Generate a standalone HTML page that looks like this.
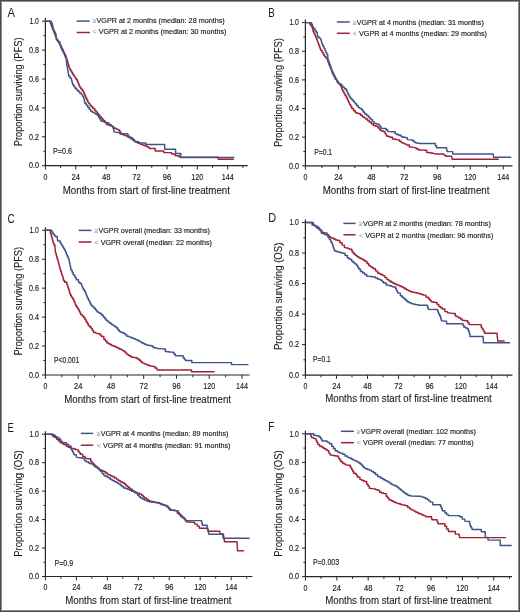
<!DOCTYPE html>
<html><head><meta charset="utf-8"><style>
html,body{margin:0;padding:0;background:#fff;overflow:hidden;}
svg{display:block;will-change:transform;}
text{font-family:"Liberation Sans", sans-serif;fill:#1a1a1a;}
.t{stroke:#1a1a1a;stroke-width:0.14px;}
.lg{stroke:#1a1a1a;stroke-width:0.14px;}
.al{stroke:#1a1a1a;stroke-width:0.1px;}
.t{font-size:8.4px;}
.al{font-size:10.4px;}
.lg{font-size:6.9px;}
.lt{font-size:12.2px;}
.sym{fill:#8a8a8a;stroke:none;}
</style></head><body>
<svg width="520" height="612" viewBox="0 0 520 612">
<rect x="0" y="0" width="520" height="612" fill="#fff"/>
<g><path d="M45.4 18.1V165.7H247.7" fill="none" stroke="#262626" stroke-width="1.2"/><path d="M45.4 165.7v3.8 M60.59 165.7v2.2 M75.78 165.7v3.8 M90.98 165.7v2.2 M106.17 165.7v3.8 M121.36 165.7v2.2 M136.55 165.7v3.8 M151.74 165.7v2.2 M166.94 165.7v3.8 M182.13 165.7v2.2 M197.32 165.7v3.8 M212.51 165.7v2.2 M227.7 165.7v3.8 M242.9 165.7v2.2 M42 165.7h3.4 M43.4 151.25h2 M42 136.8h3.4 M43.4 122.35h2 M42 107.9h3.4 M43.4 93.45h2 M42 79h3.4 M43.4 64.55h2 M42 50.1h3.4 M43.4 35.65h2 M42 21.2h3.4" fill="none" stroke="#262626" stroke-width="1"/><text x="43.45" y="179.6" textLength="3.9" lengthAdjust="spacingAndGlyphs" class="t">0</text><text x="71.58" y="179.6" textLength="8.4" lengthAdjust="spacingAndGlyphs" class="t">24</text><text x="101.97" y="179.6" textLength="8.4" lengthAdjust="spacingAndGlyphs" class="t">48</text><text x="132.35" y="179.6" textLength="8.4" lengthAdjust="spacingAndGlyphs" class="t">72</text><text x="162.74" y="179.6" textLength="8.4" lengthAdjust="spacingAndGlyphs" class="t">96</text><text x="191.32" y="179.6" textLength="12" lengthAdjust="spacingAndGlyphs" class="t">120</text><text x="221.7" y="179.6" textLength="12" lengthAdjust="spacingAndGlyphs" class="t">144</text><text x="28.9" y="168.45" textLength="10.0" lengthAdjust="spacingAndGlyphs" class="t">0.0</text><text x="28.9" y="139.55" textLength="10.0" lengthAdjust="spacingAndGlyphs" class="t">0.2</text><text x="28.9" y="110.65" textLength="10.0" lengthAdjust="spacingAndGlyphs" class="t">0.4</text><text x="28.9" y="81.75" textLength="10.0" lengthAdjust="spacingAndGlyphs" class="t">0.6</text><text x="28.9" y="52.85" textLength="10.0" lengthAdjust="spacingAndGlyphs" class="t">0.8</text><text x="29.4" y="23.95" textLength="9.5" lengthAdjust="spacingAndGlyphs" class="t">1.0</text><text x="62.7" y="193.5" textLength="167.3" lengthAdjust="spacingAndGlyphs" class="al">Months from start of first-line treatment</text><text transform="translate(22.2 146.3) rotate(-90)" x="0" y="0" textLength="108.8" lengthAdjust="spacingAndGlyphs" class="al">Proportion surviving (PFS)</text><text transform="translate(7.6 16.8) scale(0.92 1)" class="lt">A</text><path d="M76.7 21.1H89.8" stroke="#3e5687" stroke-width="1.5"/><path d="M76.7 32.5H89.8" stroke="#a32136" stroke-width="1.5"/><text x="92.5" y="23.3" textLength="132.2" lengthAdjust="spacingAndGlyphs" class="lg"><tspan class="sym">≥</tspan>VGPR at 2 months (median: 28 months)</text><text x="92.5" y="34.2" textLength="134" lengthAdjust="spacingAndGlyphs" class="lg"><tspan class="sym">&lt;</tspan> VGPR at 2 months (median: 30 months)</text><text x="53.1" y="153.5" textLength="18.8" lengthAdjust="spacingAndGlyphs" class="t">P=0.6</text><path d="M45.4,21.2 49.5,21.2 50.2,21.2 50.2,23 50.9,23 50.9,24.8 51.6,24.8 51.6,26.6 52.3,26.6 52.3,28.4 53,28.4 53,30.2 53.7,30.2 53.7,32 54.4,32 54.4,33.8 55.1,33.8 55.1,35.6 55.8,35.6 55.8,37.4 56.5,37.4 56.5,39.2 57.58,39.2 57.58,41.1 58.65,41.1 58.65,43 59.72,43 59.72,44.9 60.8,44.9 60.8,46.8 61.68,46.8 61.68,48.57 62.57,48.57 62.57,50.33 63.45,50.33 63.45,52.1 64.33,52.1 64.33,53.87 65.22,53.87 65.22,55.63 66.1,55.63 66.1,57.4 66.62,57.4 66.62,59.18 67.13,59.18 67.13,60.97 67.65,60.97 67.65,62.75 68.17,62.75 68.17,64.53 68.68,64.53 68.68,66.32 69.2,66.32 69.2,68.1 70.08,68.1 70.08,69.67 70.95,69.67 70.95,71.25 71.83,71.25 71.83,72.83 72.7,72.83 72.7,74.4 73.85,74.4 73.85,76.12 75,76.12 75,77.85 76.15,77.85 76.15,79.58 77.3,79.58 77.3,81.3 78.07,81.3 78.07,83.23 78.83,83.23 78.83,85.17 79.6,85.17 79.6,87.1 80.77,87.1 80.77,88.63 81.93,88.63 81.93,90.17 83.1,90.17 83.1,91.7 83.95,91.7 83.95,93.75 84.8,93.75 84.8,95.8 85.77,95.8 85.77,97.9 86.73,97.9 86.73,100 87.7,100 87.7,102.1 88.87,102.1 88.87,103.63 90.03,103.63 90.03,105.17 91.2,105.17 91.2,106.7 92.9,106.7 92.9,108.45 94.6,108.45 94.6,110.2 95.9,110.2 95.9,111.87 97.2,111.87 97.2,113.53 98.5,113.53 98.5,115.2 100.03,115.2 100.03,116.93 101.57,116.93 101.57,118.67 103.1,118.67 103.1,120.4 104.8,120.4 104.8,122.4 106.5,122.4 106.5,124.4 108.07,124.4 108.07,125 109.63,125 109.63,125.6 111.2,125.6 111.2,126.2 112.9,126.2 112.9,127.35 114.6,127.35 114.6,128.5 116.65,128.5 116.65,129.35 118.7,129.35 118.7,130.2 119.85,130.2 119.85,132.2 121,132.2 121,134.2 122.73,134.2 122.73,134.8 124.47,134.8 124.47,135.4 126.2,135.4 126.2,136 127.73,136 127.73,136.93 129.27,136.93 129.27,137.87 130.8,137.87 130.8,138.8 132.8,138.8 132.8,140.25 134.8,140.25 134.8,141.7 136.53,141.7 136.53,142.47 138.27,142.47 138.27,143.23 140,143.23 140,144 141.53,144 141.53,144.6 143.07,144.6 143.07,145.2 144.6,145.2 144.6,145.8 146.13,145.8 146.13,146.57 147.67,146.57 147.67,147.33 149.2,147.33 149.2,148.1 150,148.5 155.2,148.5 155.2,150.9 163.8,150.9 163.8,152.6 171.6,152.6 171.6,154 175.1,154 175.1,155.8 179.4,155.8 179.4,157.1 218.3,157.1 218.3,159.2 233.9,159.2" fill="none" stroke="#a32136" stroke-width="1.45" stroke-linejoin="round"/><path d="M45.4,21.2 50.25,21.2 51.23,21.2 51.23,22.95 52.2,22.95 52.2,24.7 52.67,24.7 52.67,26.63 53.13,26.63 53.13,28.57 53.6,28.57 53.6,30.5 54.4,30.5 54.4,32.1 55.2,32.1 55.2,33.7 56,33.7 56,35.3 56.5,40.1 58.2,40.1 58.2,41.8 59.9,41.8 59.9,43.5 60.35,43.5 60.35,45.65 60.8,45.65 60.8,47.8 61.65,47.8 61.65,49.47 62.5,49.47 62.5,51.15 63.35,51.15 63.35,52.83 64.2,52.83 64.2,54.5 64.83,54.5 64.83,56.1 65.47,56.1 65.47,57.7 66.1,57.7 66.1,59.3 66.3,59.3 66.3,60.92 66.5,60.92 66.5,62.55 66.7,62.55 66.7,64.17 66.9,64.17 66.9,65.8 67.2,65.8 67.2,67.53 67.5,67.53 67.5,69.27 67.8,69.27 67.8,71 68.1,71 68.1,72.73 68.4,72.73 68.4,74.47 68.7,74.47 68.7,76.2 70.1,76.2 70.1,78.2 71.5,78.2 71.5,80.2 71.9,80.2 71.9,81.73 72.3,81.73 72.3,83.27 72.7,83.27 72.7,84.8 73.85,84.8 73.85,86.55 75,86.55 75,88.3 76.45,88.3 76.45,89.75 77.9,89.75 77.9,91.2 79.6,91.2 79.6,92.9 81.3,92.9 81.3,94.6 82.5,94.6 82.5,96.35 83.7,96.35 83.7,98.1 84.07,98.1 84.07,99.83 84.43,99.83 84.43,101.57 84.8,101.57 84.8,103.3 86.25,103.3 86.25,105.3 87.7,105.3 87.7,107.3 89.15,107.3 89.15,109.3 90.6,109.3 90.6,111.3 92.3,111.3 92.3,112.2 94,112.2 94,113.1 95.65,113.1 95.65,114.15 97.3,114.15 97.3,115.2 98.47,115.2 98.47,117.13 99.63,117.13 99.63,119.07 100.8,119.07 100.8,121 102.5,121 102.5,121.55 104.2,121.55 104.2,122.1 105.65,122.1 105.65,122.4 107.1,122.4 107.1,122.7 108.55,122.7 108.55,123.85 110,123.85 110,125 111.45,125 111.45,126.15 112.9,126.15 112.9,127.3 113.27,127.3 113.27,128.83 113.63,128.83 113.63,130.37 114,130.37 114,131.9 117.5,132.5 119.8,132.5 119.8,133.7 125.6,133.7 127.9,133.7 127.9,136 129.35,136 129.35,136.85 130.8,136.85 130.8,137.7 132.5,137.7 132.5,139.45 134.2,139.45 134.2,141.2 137.7,141.7 138.8,141.7 138.8,142.9 145.8,142.9 145.8,144.5 164.7,144.5 164.7,149.2 175.6,149.2 175.6,153.5 180.8,153.5 180.8,157.5 234.4,157.5" fill="none" stroke="#3e5687" stroke-width="1.45" stroke-linejoin="round"/></g>
<g><path d="M305.4 19.4V165.8H512.4" fill="none" stroke="#262626" stroke-width="1.2"/><path d="M305.4 165.8v3.8 M321.88 165.8v2.2 M338.37 165.8v3.8 M354.85 165.8v2.2 M371.33 165.8v3.8 M387.82 165.8v2.2 M404.3 165.8v3.8 M420.78 165.8v2.2 M437.27 165.8v3.8 M453.75 165.8v2.2 M470.23 165.8v3.8 M486.72 165.8v2.2 M503.2 165.8v3.8 M302 165.8h3.4 M303.4 151.48h2 M302 137.16h3.4 M303.4 122.84h2 M302 108.52h3.4 M303.4 94.2h2 M302 79.88h3.4 M303.4 65.56h2 M302 51.24h3.4 M303.4 36.92h2 M302 22.6h3.4" fill="none" stroke="#262626" stroke-width="1"/><text x="303.45" y="179.7" textLength="3.9" lengthAdjust="spacingAndGlyphs" class="t">0</text><text x="334.17" y="179.7" textLength="8.4" lengthAdjust="spacingAndGlyphs" class="t">24</text><text x="367.13" y="179.7" textLength="8.4" lengthAdjust="spacingAndGlyphs" class="t">48</text><text x="400.1" y="179.7" textLength="8.4" lengthAdjust="spacingAndGlyphs" class="t">72</text><text x="433.07" y="179.7" textLength="8.4" lengthAdjust="spacingAndGlyphs" class="t">96</text><text x="464.23" y="179.7" textLength="12" lengthAdjust="spacingAndGlyphs" class="t">120</text><text x="497.2" y="179.7" textLength="12" lengthAdjust="spacingAndGlyphs" class="t">144</text><text x="288.9" y="168.55" textLength="10.0" lengthAdjust="spacingAndGlyphs" class="t">0.0</text><text x="288.9" y="139.91" textLength="10.0" lengthAdjust="spacingAndGlyphs" class="t">0.2</text><text x="288.9" y="111.27" textLength="10.0" lengthAdjust="spacingAndGlyphs" class="t">0.4</text><text x="288.9" y="82.63" textLength="10.0" lengthAdjust="spacingAndGlyphs" class="t">0.6</text><text x="288.9" y="53.99" textLength="10.0" lengthAdjust="spacingAndGlyphs" class="t">0.8</text><text x="289.4" y="25.35" textLength="9.5" lengthAdjust="spacingAndGlyphs" class="t">1.0</text><text x="322.7" y="193.6" textLength="166.7" lengthAdjust="spacingAndGlyphs" class="al">Months from start of first-line treatment</text><text transform="translate(282.2 147) rotate(-90)" x="0" y="0" textLength="108.9" lengthAdjust="spacingAndGlyphs" class="al">Proportion surviving (PFS)</text><text transform="translate(268.3 16.6) scale(0.8 1)" class="lt">B</text><path d="M336.9 22H349.8" stroke="#3e5687" stroke-width="1.5"/><path d="M336.9 33.3H349.8" stroke="#a32136" stroke-width="1.5"/><text x="352.8" y="24.5" textLength="131" lengthAdjust="spacingAndGlyphs" class="lg"><tspan class="sym">≥</tspan>VGPR at 4 months (median: 31 months)</text><text x="352.8" y="35.7" textLength="134.2" lengthAdjust="spacingAndGlyphs" class="lg"><tspan class="sym">&lt;</tspan> VGPR at 4 months (median: 29 months)</text><text x="314.2" y="154.6" textLength="17.9" lengthAdjust="spacingAndGlyphs" class="t">P=0.1</text><path d="M305.4,22.6 308.6,22.6 309.77,22.6 309.77,24.33 310.93,24.33 310.93,26.07 312.1,26.07 312.1,27.8 312.65,27.8 312.65,29.8 313.2,29.8 313.2,31.8 313.97,31.8 313.97,33.37 314.73,33.37 314.73,34.93 315.5,34.93 315.5,36.5 316.1,36.5 316.1,38.03 316.7,38.03 316.7,39.57 317.3,39.57 317.3,41.1 317.87,41.1 317.87,42.63 318.43,42.63 318.43,44.17 319,44.17 319,45.7 319.57,45.7 319.57,47.23 320.13,47.23 320.13,48.77 320.7,48.77 320.7,50.3 321.85,50.3 321.85,52.05 323,52.05 323,53.8 323.9,53.8 323.9,55.25 324.8,55.25 324.8,56.7 325.95,56.7 325.95,58.1 327.1,58.1 327.1,59.5 327.67,59.5 327.67,61.07 328.23,61.07 328.23,62.63 328.8,62.63 328.8,64.2 329.52,64.2 329.52,65.92 330.25,65.92 330.25,67.65 330.98,67.65 330.98,69.38 331.7,69.38 331.7,71.1 332.67,71.1 332.67,73.03 333.63,73.03 333.63,74.97 334.6,74.97 334.6,76.9 335.48,76.9 335.48,78.5 336.35,78.5 336.35,80.1 337.23,80.1 337.23,81.7 338.1,81.7 338.1,83.3 339.55,83.3 339.55,85 341,85 341,86.7 341.57,86.7 341.57,88.23 342.13,88.23 342.13,89.77 342.7,89.77 342.7,91.3 343.85,91.3 343.85,93.35 345,93.35 345,95.4 346.15,95.4 346.15,97.4 347.3,97.4 347.3,99.4 348.07,99.4 348.07,101.13 348.83,101.13 348.83,102.87 349.6,102.87 349.6,104.6 350.75,104.6 350.75,106.65 351.9,106.65 351.9,108.7 353.65,108.7 353.65,110.7 355.4,110.7 355.4,112.7 357.1,112.7 357.1,113.25 358.8,113.25 358.8,113.8 360.55,113.8 360.55,115.25 362.3,115.25 362.3,116.7 364.05,116.7 364.05,117.85 365.8,117.85 365.8,119 367.5,119 367.5,120.45 369.2,120.45 369.2,121.9 371.25,121.9 371.25,123.65 373.3,123.65 373.3,125.4 375,125.4 375,125.95 376.7,125.95 376.7,126.5 378.15,126.5 378.15,127.95 379.6,127.95 379.6,129.4 380.4,129.4 380.4,130.5 382.05,130.5 382.05,131.15 383.7,131.15 383.7,131.8 385.05,131.8 385.05,133.85 386.4,133.85 386.4,135.9 388.1,135.9 388.1,136.55 389.8,136.55 389.8,137.2 392.5,137.2 392.5,139 394.3,139 394.3,139.3 396.1,139.3 396.1,139.6 397.9,139.6 397.9,139.9 399.55,139.9 399.55,141.25 401.2,141.25 401.2,142.6 403,142.6 403,143.37 404.8,143.37 404.8,144.13 406.6,144.13 406.6,144.9 409.3,144.9 409.3,146.9 410.87,146.9 410.87,147.13 412.43,147.13 412.43,147.37 414,147.37 414,147.6 416.05,147.6 416.05,148.65 418.1,148.65 418.1,149.7 420.1,149.7 420.1,149.9 422.1,149.9 422.1,150.1 424.1,150.1 424.1,150.3 426.8,150.3 426.8,152.4 428.83,152.4 428.83,152.73 430.87,152.73 430.87,153.07 432.9,153.07 432.9,153.4 436.2,154 441.9,154 443.85,154 443.85,155.1 445.8,155.1 445.8,156.2 451.6,156.2 452.2,159.2 498.8,159.2" fill="none" stroke="#a32136" stroke-width="1.45" stroke-linejoin="round"/><path d="M305.4,22.6 309.8,22.6 311.5,22.6 311.5,24.3 312.35,24.3 312.35,26.35 313.2,26.35 313.2,28.4 315,28.4 315,30.7 316.15,30.7 316.15,32.15 317.3,32.15 317.3,33.6 317.8,37 319.25,37 319.25,38.15 320.7,38.15 320.7,39.3 321.1,39.3 321.1,40.87 321.5,40.87 321.5,42.43 321.9,42.43 321.9,44 322.67,44 322.67,45.53 323.43,45.53 323.43,47.07 324.2,47.07 324.2,48.6 325.05,48.6 325.05,50.6 325.9,50.6 325.9,52.6 326.8,52.6 326.8,54.35 327.7,54.35 327.7,56.1 328.2,60.7 328.93,60.7 328.93,62.73 329.65,62.73 329.65,64.75 330.38,64.75 330.38,66.78 331.1,66.78 331.1,68.8 331.5,68.8 331.5,70.37 331.9,70.37 331.9,71.93 332.3,71.93 332.3,73.5 333.27,73.5 333.27,75.4 334.23,75.4 334.23,77.3 335.2,77.3 335.2,79.2 336.65,79.2 336.65,81.25 338.1,81.25 338.1,83.3 339.55,83.3 339.55,83.85 341,83.85 341,84.4 341.85,84.4 341.85,85.85 342.7,85.85 342.7,87.3 344.45,87.3 344.45,88.75 346.2,88.75 346.2,90.2 347.05,90.2 347.05,92.2 347.9,92.2 347.9,94.2 349.05,94.2 349.05,96.25 350.2,96.25 350.2,98.3 351.65,98.3 351.65,99.75 353.1,99.75 353.1,101.2 354.25,101.2 354.25,102.6 355.4,102.6 355.4,104 356.85,104 356.85,105.75 358.3,105.75 358.3,107.5 359.75,107.5 359.75,108.35 361.2,108.35 361.2,109.2 362.33,109.2 362.33,110.73 363.47,110.73 363.47,112.27 364.6,112.27 364.6,113.8 366.35,113.8 366.35,115.25 368.1,115.25 368.1,116.7 369.55,116.7 369.55,118.15 371,118.15 371,119.6 372.4,119.6 372.4,121.35 373.8,121.35 373.8,123.1 375.55,123.1 375.55,123.65 377.3,123.65 377.3,124.2 379,124.2 379,125.1 380.05,125.1 380.05,126.65 381.1,126.65 381.1,128.2 384.4,128.5 386.1,128.5 386.1,129.95 387.8,129.95 387.8,131.4 392.5,131.8 395.2,131.8 395.2,133.8 396.9,133.8 396.9,134.5 398.6,134.5 398.6,135.2 401.2,135.2 401.2,136.8 403.25,136.8 403.25,137.2 405.3,137.2 405.3,137.6 407.3,137.6 407.3,139.6 411.3,139.9 413,139.9 413,141.25 414.7,141.25 414.7,142.6 416.27,142.6 416.27,142.9 417.83,142.9 417.83,143.2 419.4,143.2 419.4,143.5 434.2,143.5 435.35,143.5 435.35,145.65 436.5,145.65 436.5,147.8 446.1,147.8 446.55,147.8 446.55,149.7 447,149.7 447,151.6 451.9,151.6 452.7,151.6 452.7,153.9 493.2,153.9 493.5,157.3 511.2,157.3" fill="none" stroke="#3e5687" stroke-width="1.45" stroke-linejoin="round"/></g>
<g><path d="M45.4 227.3V375H249.6" fill="none" stroke="#262626" stroke-width="1.2"/><path d="M45.4 375v3.8 M61.78 375v2.2 M78.16 375v3.8 M94.54 375v2.2 M110.92 375v3.8 M127.3 375v2.2 M143.68 375v3.8 M160.06 375v2.2 M176.44 375v3.8 M192.82 375v2.2 M209.2 375v3.8 M225.58 375v2.2 M241.96 375v3.8 M42 375h3.4 M43.4 360.53h2 M42 346.06h3.4 M43.4 331.59h2 M42 317.12h3.4 M43.4 302.65h2 M42 288.18h3.4 M43.4 273.71h2 M42 259.24h3.4 M43.4 244.77h2 M42 230.3h3.4" fill="none" stroke="#262626" stroke-width="1"/><text x="43.45" y="388.9" textLength="3.9" lengthAdjust="spacingAndGlyphs" class="t">0</text><text x="73.96" y="388.9" textLength="8.4" lengthAdjust="spacingAndGlyphs" class="t">24</text><text x="106.72" y="388.9" textLength="8.4" lengthAdjust="spacingAndGlyphs" class="t">48</text><text x="139.48" y="388.9" textLength="8.4" lengthAdjust="spacingAndGlyphs" class="t">72</text><text x="172.24" y="388.9" textLength="8.4" lengthAdjust="spacingAndGlyphs" class="t">96</text><text x="203.2" y="388.9" textLength="12" lengthAdjust="spacingAndGlyphs" class="t">120</text><text x="235.96" y="388.9" textLength="12" lengthAdjust="spacingAndGlyphs" class="t">144</text><text x="28.9" y="377.75" textLength="10.0" lengthAdjust="spacingAndGlyphs" class="t">0.0</text><text x="28.9" y="348.81" textLength="10.0" lengthAdjust="spacingAndGlyphs" class="t">0.2</text><text x="28.9" y="319.87" textLength="10.0" lengthAdjust="spacingAndGlyphs" class="t">0.4</text><text x="28.9" y="290.93" textLength="10.0" lengthAdjust="spacingAndGlyphs" class="t">0.6</text><text x="28.9" y="261.99" textLength="10.0" lengthAdjust="spacingAndGlyphs" class="t">0.8</text><text x="29.4" y="233.05" textLength="9.5" lengthAdjust="spacingAndGlyphs" class="t">1.0</text><text x="64.2" y="402.5" textLength="166.8" lengthAdjust="spacingAndGlyphs" class="al">Months from start of first-line treatment</text><text transform="translate(22.2 355.6) rotate(-90)" x="0" y="0" textLength="108.7" lengthAdjust="spacingAndGlyphs" class="al">Proportion surviving (PFS)</text><text transform="translate(7.4 222.8) scale(0.82 1)" class="lt">C</text><path d="M78.6 230.4H91.5" stroke="#3e5687" stroke-width="1.5"/><path d="M78.6 242H91.5" stroke="#a32136" stroke-width="1.5"/><text x="94.5" y="233" textLength="115.4" lengthAdjust="spacingAndGlyphs" class="lg"><tspan class="sym">≥</tspan>VGPR overall (median: 33 months)</text><text x="94.5" y="244.5" textLength="117.4" lengthAdjust="spacingAndGlyphs" class="lg"><tspan class="sym">&lt;</tspan> VGPR overall (median: 22 months)</text><text x="54.1" y="363" textLength="25.2" lengthAdjust="spacingAndGlyphs" class="t">P&lt;0.001</text><path d="M45.4,230.3 49.2,230.3 50.3,230.3 50.3,232.9 50.9,232.9 50.9,234.83 51.5,234.83 51.5,236.77 52.1,236.77 52.1,238.7 52.47,238.7 52.47,240.23 52.83,240.23 52.83,241.77 53.2,241.77 53.2,243.3 54.1,243.3 54.1,245.3 55,245.3 55,247.3 55.5,252.5 55.9,252.5 55.9,254.07 56.3,254.07 56.3,255.63 56.7,255.63 56.7,257.2 57.25,257.2 57.25,258.9 57.8,258.9 57.8,260.6 58.2,260.6 58.2,262.13 58.6,262.13 58.6,263.67 59,263.67 59,265.2 59.4,265.2 59.4,266.73 59.8,266.73 59.8,268.27 60.2,268.27 60.2,269.8 60.75,269.8 60.75,271.55 61.3,271.55 61.3,273.3 61.9,273.3 61.9,275.05 62.5,275.05 62.5,276.8 63.05,276.8 63.05,278.8 63.6,278.8 63.6,280.8 64.6,280.8 64.6,282.3 66.9,282.3 66.9,284.6 67.5,284.6 67.5,286.33 68.1,286.33 68.1,288.07 68.7,288.07 68.7,289.8 69.25,289.8 69.25,291.8 69.8,291.8 69.8,293.8 70.65,293.8 70.65,295.55 71.5,295.55 71.5,297.3 72.65,297.3 72.65,299.05 73.8,299.05 73.8,300.8 74.4,300.8 74.4,302.33 75,302.33 75,303.87 75.6,303.87 75.6,305.4 76.57,305.4 76.57,306.93 77.53,306.93 77.53,308.47 78.5,308.47 78.5,310 79.27,310 79.27,311.53 80.03,311.53 80.03,313.07 80.8,313.07 80.8,314.6 82.25,314.6 82.25,316.05 83.7,316.05 83.7,317.5 84.85,317.5 84.85,319.5 86,319.5 86,321.5 87.15,321.5 87.15,323.55 88.3,323.55 88.3,325.6 89.75,325.6 89.75,327.05 91.2,327.05 91.2,328.5 92.35,328.5 92.35,330.5 93.5,330.5 93.5,332.5 95.8,332.5 95.8,333.1 98.7,333.7 100.1,333.7 100.1,335.1 101.5,335.1 101.5,336.5 103.8,336.5 103.8,339.2 105.35,339.2 105.35,341 106.9,341 106.9,342.8 108.43,342.8 108.43,343.67 109.97,343.67 109.97,344.53 111.5,344.53 111.5,345.4 113.45,345.4 113.45,346.15 115.4,346.15 115.4,346.9 116.93,346.9 116.93,347.67 118.47,347.67 118.47,348.43 120,348.43 120,349.2 121.9,349.2 121.9,350.35 123.8,350.35 123.8,351.5 125.35,351.5 125.35,353.05 126.9,353.05 126.9,354.6 128.85,354.6 128.85,355.75 130.8,355.75 130.8,356.9 132.33,356.9 132.33,357.17 133.87,357.17 133.87,357.43 135.4,357.43 135.4,357.7 137.3,357.7 137.3,359 139.2,359 139.2,360.3 140.75,360.3 140.75,361.7 142.3,361.7 142.3,363.1 144.25,363.1 144.25,363.85 146.2,363.85 146.2,364.6 147.7,364.6 147.7,365.15 149.2,365.15 149.2,365.7 151.15,365.7 151.15,366.1 153.1,366.1 153.1,366.5 155,366.5 155,368 156.9,368 156.9,369.5 157.5,370 190.8,370 191.5,370 191.5,371.8 214.6,371.8" fill="none" stroke="#a32136" stroke-width="1.45" stroke-linejoin="round"/><path d="M45.4,230.3 50.9,230.3 51.8,230.3 51.8,231.9 52.7,231.9 52.7,233.5 53.85,233.5 53.85,234.95 55,234.95 55,236.4 57.3,236.4 57.3,238.7 57.8,241 60.2,241 60.2,242.7 61.05,242.7 61.05,244.15 61.9,244.15 61.9,245.6 62.75,245.6 62.75,247.05 63.6,247.05 63.6,248.5 64.45,248.5 64.45,249.95 65.3,249.95 65.3,251.4 65.9,251.4 65.9,252.93 66.5,252.93 66.5,254.47 67.1,254.47 67.1,256 67.95,256 67.95,258 68.8,258 68.8,260 69.2,260 69.2,261.73 69.6,261.73 69.6,263.47 70,263.47 70,265.2 70.37,265.2 70.37,266.93 70.73,266.93 70.73,268.67 71.1,268.67 71.1,270.4 72.3,270.4 72.3,272.7 73.15,272.7 73.15,274.15 74,274.15 74,275.6 75.15,275.6 75.15,277.65 76.3,277.65 76.3,279.7 78.5,279.7 78.5,282.3 79.9,282.3 79.9,283.45 81.3,283.45 81.3,284.6 81.9,284.6 81.9,286.35 82.5,286.35 82.5,288.1 83.47,288.1 83.47,289.63 84.43,289.63 84.43,291.17 85.4,291.17 85.4,292.7 85.97,292.7 85.97,294.23 86.53,294.23 86.53,295.77 87.1,295.77 87.1,297.3 87.87,297.3 87.87,298.83 88.63,298.83 88.63,300.37 89.4,300.37 89.4,301.9 90.3,301.9 90.3,303.65 91.2,303.65 91.2,305.4 92.6,305.4 92.6,306.85 94,306.85 94,308.3 95.45,308.3 95.45,310 96.9,310 96.9,311.7 98.35,311.7 98.35,312.6 99.8,312.6 99.8,313.5 101.55,313.5 101.55,315.2 103.3,315.2 103.3,316.9 104.75,316.9 104.75,318.65 106.2,318.65 106.2,320.4 107.9,320.4 107.9,321.85 109.6,321.85 109.6,323.3 111.35,323.3 111.35,324.45 113.1,324.45 113.1,325.6 114.8,325.6 114.8,326.75 116.5,326.75 116.5,327.9 117.85,327.9 117.85,329.7 119.2,329.7 119.2,331.5 120.73,331.5 120.73,332.17 122.27,332.17 122.27,332.83 123.8,332.83 123.8,333.5 125.35,333.5 125.35,334.85 126.9,334.85 126.9,336.2 128.7,336.2 128.7,336.87 130.5,336.87 130.5,337.53 132.3,337.53 132.3,338.2 133.83,338.2 133.83,338.8 135.37,338.8 135.37,339.4 136.9,339.4 136.9,340 138.43,340 138.43,340.93 139.97,340.93 139.97,341.87 141.5,341.87 141.5,342.8 143.07,342.8 143.07,343.5 144.63,343.5 144.63,344.2 146.2,344.2 146.2,344.9 147.73,344.9 147.73,345.2 149.27,345.2 149.27,345.5 150.8,345.5 150.8,345.8 152.3,345.8 152.3,346.75 153.8,346.75 153.8,347.7 155.75,347.7 155.75,348.1 157.7,348.1 157.7,348.5 163.1,348.9 165.4,348.9 165.4,351.5 167.12,351.5 167.12,351.7 168.85,351.7 168.85,351.9 170.58,351.9 170.58,352.1 172.3,352.1 172.3,352.3 173.85,352.3 173.85,354.05 175.4,354.05 175.4,355.8 180.8,355.8 183.1,355.8 183.1,357.7 184.25,357.7 184.25,359.1 185.4,359.1 185.4,360.5 190,360.5 191.8,360.5 191.8,362.6 230.8,362.6 231.5,362.6 231.5,364.6 248.5,364.6" fill="none" stroke="#3e5687" stroke-width="1.45" stroke-linejoin="round"/></g>
<g><path d="M305.4 219.4V375.1H512.4" fill="none" stroke="#262626" stroke-width="1.2"/><path d="M305.4 375.1v3.8 M320.93 375.1v2.2 M336.46 375.1v3.8 M351.98 375.1v2.2 M367.51 375.1v3.8 M383.04 375.1v2.2 M398.57 375.1v3.8 M414.1 375.1v2.2 M429.62 375.1v3.8 M445.15 375.1v2.2 M460.68 375.1v3.8 M476.21 375.1v2.2 M491.74 375.1v3.8 M507.26 375.1v2.2 M302 375.1h3.4 M303.4 359.84h2 M302 344.58h3.4 M303.4 329.32h2 M302 314.06h3.4 M303.4 298.8h2 M302 283.54h3.4 M303.4 268.28h2 M302 253.02h3.4 M303.4 237.76h2 M302 222.5h3.4" fill="none" stroke="#262626" stroke-width="1"/><text x="303.45" y="389" textLength="3.9" lengthAdjust="spacingAndGlyphs" class="t">0</text><text x="332.26" y="389" textLength="8.4" lengthAdjust="spacingAndGlyphs" class="t">24</text><text x="363.31" y="389" textLength="8.4" lengthAdjust="spacingAndGlyphs" class="t">48</text><text x="394.37" y="389" textLength="8.4" lengthAdjust="spacingAndGlyphs" class="t">72</text><text x="425.42" y="389" textLength="8.4" lengthAdjust="spacingAndGlyphs" class="t">96</text><text x="454.68" y="389" textLength="12" lengthAdjust="spacingAndGlyphs" class="t">120</text><text x="485.74" y="389" textLength="12" lengthAdjust="spacingAndGlyphs" class="t">144</text><text x="288.9" y="377.85" textLength="10.0" lengthAdjust="spacingAndGlyphs" class="t">0.0</text><text x="288.9" y="347.33" textLength="10.0" lengthAdjust="spacingAndGlyphs" class="t">0.2</text><text x="288.9" y="316.81" textLength="10.0" lengthAdjust="spacingAndGlyphs" class="t">0.4</text><text x="288.9" y="286.29" textLength="10.0" lengthAdjust="spacingAndGlyphs" class="t">0.6</text><text x="288.9" y="255.77" textLength="10.0" lengthAdjust="spacingAndGlyphs" class="t">0.8</text><text x="289.4" y="225.25" textLength="9.5" lengthAdjust="spacingAndGlyphs" class="t">1.0</text><text x="325.2" y="402.3" textLength="166.6" lengthAdjust="spacingAndGlyphs" class="al">Months from start of first-line treatment</text><text transform="translate(282.2 350.1) rotate(-90)" x="0" y="0" textLength="107.5" lengthAdjust="spacingAndGlyphs" class="al">Proportion surviving (OS)</text><text transform="translate(268.3 222.3) scale(0.9 1)" class="lt">D</text><path d="M343.4 223.4H355.6" stroke="#3e5687" stroke-width="1.5"/><path d="M343.4 234.8H355.6" stroke="#a32136" stroke-width="1.5"/><text x="359" y="226" textLength="131.8" lengthAdjust="spacingAndGlyphs" class="lg"><tspan class="sym">≥</tspan>VGPR at 2 months (median: 78 months)</text><text x="359" y="237.5" textLength="134.3" lengthAdjust="spacingAndGlyphs" class="lg"><tspan class="sym">&lt;</tspan> VGPR at 2 months (median: 96 months)</text><text x="313.1" y="362.2" textLength="17.7" lengthAdjust="spacingAndGlyphs" class="t">P=0.1</text><path d="M305.4,222.5 310.3,222.5 312.1,222.5 312.1,224.9 313.8,224.9 313.8,225.5 315.5,225.5 315.5,226.1 317.3,226.1 317.3,228.4 319.6,228.4 319.6,230.1 321.9,230.1 321.9,232.4 324.2,232.4 324.2,234.2 326.5,234.7 328.8,234.7 328.8,236.5 330.25,236.5 330.25,237.35 331.7,237.35 331.7,238.2 334,238.2 334,239.3 335.75,239.3 335.75,239.9 337.5,239.9 337.5,240.5 339.8,240.5 339.8,242.8 342.1,242.8 342.1,245.1 344.4,245.1 344.4,247.4 346.7,248 348.15,248 348.15,248.6 349.6,248.6 349.6,249.2 351.9,249.2 351.9,251.5 353.05,251.5 353.05,252.9 354.2,252.9 354.2,254.3 355.65,254.3 355.65,255.5 357.1,255.5 357.1,256.7 358.8,256.7 358.8,257.65 360.5,257.65 360.5,258.6 362.13,258.6 362.13,259.53 363.77,259.53 363.77,260.47 365.4,260.47 365.4,261.4 367.05,261.4 367.05,263.45 368.7,263.45 368.7,265.5 370.3,265.5 370.3,266.6 371.9,266.6 371.9,267.7 373.5,267.7 373.5,268.8 375.5,268.8 375.5,270.85 377.5,270.85 377.5,272.9 379.3,272.9 379.3,273.8 381.1,273.8 381.1,274.7 382.9,274.7 382.9,275.6 384.9,275.6 384.9,277.6 386.9,277.6 386.9,279.6 388.95,279.6 388.95,280.95 391,280.95 391,282.3 393,282.3 393,283.3 395,283.3 395,284.3 397,284.3 397,285 399,285 399,285.7 401.05,285.7 401.05,286.7 403.1,286.7 403.1,287.7 404.75,287.7 404.75,288.7 406.4,288.7 406.4,289.7 408.1,289.7 408.1,290.6 409.8,290.6 409.8,291.5 411.6,291.5 411.6,291.93 413.4,291.93 413.4,292.37 415.2,292.37 415.2,292.8 417.2,292.8 417.2,293.25 419.2,293.25 419.2,293.7 421.25,293.7 421.25,294.4 423.3,294.4 423.3,295.1 426,295.1 426,297.2 428.5,297.2 428.5,298.7 429.8,298.7 429.8,300.25 431.1,300.25 431.1,301.8 433.25,301.8 433.25,302.15 435.4,302.15 435.4,302.5 437.1,302.5 437.1,304.45 438.8,304.45 438.8,306.4 440.55,306.4 440.55,307.7 442.3,307.7 442.3,309 444.9,309 444.9,311.6 447.5,311.6 447.5,312.8 452.7,313.4 455.3,313.4 455.3,316 457,316 457,316.85 458.7,316.85 458.7,317.7 460.45,317.7 460.45,319 462.2,319 462.2,320.3 466.5,320.8 467.8,320.8 467.8,322.7 469.1,322.7 469.1,324.6 478.6,324.6 481.2,324.6 481.2,327.2 482.1,327.2 482.1,328.65 483,328.65 483,330.1 483.85,330.1 483.85,331.7 484.7,331.7 484.7,333.3 496.8,333.3 497.02,333.3 497.02,335.23 497.25,335.23 497.25,337.15 497.48,337.15 497.48,339.07 497.7,339.07 497.7,341 504.6,341" fill="none" stroke="#a32136" stroke-width="1.45" stroke-linejoin="round"/><path d="M305.4,222.5 312.7,222.5 313.25,222.5 313.25,224 313.8,224 313.8,225.5 315.5,225.5 315.5,226.7 317.3,227.2 319,227.2 319,229 320.2,229 320.2,230.7 321.3,230.7 321.3,233 323,233.6 324.8,233 327.1,233 327.1,234.7 327.65,234.7 327.65,236.15 328.2,236.15 328.2,237.6 329.35,237.6 329.35,239.35 330.5,239.35 330.5,241.1 331.4,241.1 331.4,242.8 332.3,242.8 332.3,244.5 332.85,244.5 332.85,246.25 333.4,246.25 333.4,248 334,248 334,249.45 334.6,249.45 334.6,250.9 336.3,250.9 336.3,251.45 338,251.45 338,252 339.57,252 339.57,252.4 341.13,252.4 341.13,252.8 342.7,252.8 342.7,253.2 345,253.2 345,255.5 347.3,255.5 347.3,257.8 348.75,257.8 348.75,258.65 350.2,258.65 350.2,259.5 351.6,259.5 351.6,260.95 353,260.95 353,262.4 354.75,262.4 354.75,263.85 356.5,263.85 356.5,265.3 357.65,265.3 357.65,267.3 358.8,267.3 358.8,269.3 360.5,269.3 360.5,271.5 362.7,271.5 362.7,272.9 364.7,272.9 364.7,274.55 366.7,274.55 366.7,276.2 368.4,276.2 368.4,276.38 370.1,276.38 370.1,276.55 371.8,276.55 371.8,276.72 373.5,276.72 373.5,276.9 375.5,276.9 375.5,277.9 377.5,277.9 377.5,278.9 379.2,278.9 379.2,279.6 380.9,279.6 380.9,280.3 382.25,280.3 382.25,281.65 383.6,281.65 383.6,283 386.2,283 386.2,285 387.9,285 387.9,285.35 389.6,285.35 389.6,285.7 391.3,285.7 391.3,286.35 393,286.35 393,287 395.7,287 395.7,288.4 396.37,288.4 396.37,289.97 397.03,289.97 397.03,291.53 397.7,291.53 397.7,293.1 400.4,293.1 400.4,295.8 402.05,295.8 402.05,297.15 403.7,297.15 403.7,298.5 405.4,298.5 405.4,300.15 407.1,300.15 407.1,301.8 409.1,301.8 409.1,302.7 411.1,302.7 411.1,303.6 412.95,303.6 412.95,304 414.8,304 414.8,304.4 416.65,304.4 416.65,304.8 418.5,304.8 418.5,305.2 426.6,305.2 427.45,305.2 427.45,307.3 428.3,307.3 428.3,309.4 437.1,309.5 437.67,309.5 437.67,311.07 438.23,311.07 438.23,312.63 438.8,312.63 438.8,314.2 439.7,314.2 439.7,315.95 440.6,315.95 440.6,317.7 441,317.7 441,319.25 441.4,319.25 441.4,320.8 445.8,321.1 446.6,321.1 446.6,323.7 462.2,323.7 463.05,323.7 463.05,325.45 463.9,325.45 463.9,327.2 465.65,327.2 465.65,328.05 467.4,328.05 467.4,328.9 468.25,328.9 468.25,330.65 469.1,330.65 469.1,332.4 469.55,332.4 469.55,334.4 470,334.4 470,336.4 483,336.4 483.5,342.8 510.1,342.8" fill="none" stroke="#3e5687" stroke-width="1.45" stroke-linejoin="round"/></g>
<g><path d="M45.4 431.2V576.5H252.4" fill="none" stroke="#262626" stroke-width="1.2"/><path d="M45.4 576.5v3.8 M60.88 576.5v2.2 M76.36 576.5v3.8 M91.84 576.5v2.2 M107.32 576.5v3.8 M122.8 576.5v2.2 M138.28 576.5v3.8 M153.76 576.5v2.2 M169.24 576.5v3.8 M184.72 576.5v2.2 M200.2 576.5v3.8 M215.68 576.5v2.2 M231.16 576.5v3.8 M246.64 576.5v2.2 M42 576.5h3.4 M43.4 562.27h2 M42 548.04h3.4 M43.4 533.81h2 M42 519.58h3.4 M43.4 505.35h2 M42 491.12h3.4 M43.4 476.89h2 M42 462.66h3.4 M43.4 448.43h2 M42 434.2h3.4" fill="none" stroke="#262626" stroke-width="1"/><text x="43.45" y="590.4" textLength="3.9" lengthAdjust="spacingAndGlyphs" class="t">0</text><text x="72.16" y="590.4" textLength="8.4" lengthAdjust="spacingAndGlyphs" class="t">24</text><text x="103.12" y="590.4" textLength="8.4" lengthAdjust="spacingAndGlyphs" class="t">48</text><text x="134.08" y="590.4" textLength="8.4" lengthAdjust="spacingAndGlyphs" class="t">72</text><text x="165.04" y="590.4" textLength="8.4" lengthAdjust="spacingAndGlyphs" class="t">96</text><text x="194.2" y="590.4" textLength="12" lengthAdjust="spacingAndGlyphs" class="t">120</text><text x="225.16" y="590.4" textLength="12" lengthAdjust="spacingAndGlyphs" class="t">144</text><text x="28.9" y="579.25" textLength="10.0" lengthAdjust="spacingAndGlyphs" class="t">0.0</text><text x="28.9" y="550.79" textLength="10.0" lengthAdjust="spacingAndGlyphs" class="t">0.2</text><text x="28.9" y="522.33" textLength="10.0" lengthAdjust="spacingAndGlyphs" class="t">0.4</text><text x="28.9" y="493.87" textLength="10.0" lengthAdjust="spacingAndGlyphs" class="t">0.6</text><text x="28.9" y="465.41" textLength="10.0" lengthAdjust="spacingAndGlyphs" class="t">0.8</text><text x="29.4" y="436.95" textLength="9.5" lengthAdjust="spacingAndGlyphs" class="t">1.0</text><text x="65.2" y="604" textLength="166.3" lengthAdjust="spacingAndGlyphs" class="al">Months from start of first-line treatment</text><text transform="translate(22.2 556.7) rotate(-90)" x="0" y="0" textLength="106.4" lengthAdjust="spacingAndGlyphs" class="al">Proportion surviving (OS)</text><text transform="translate(7.4 431.5) scale(0.78 1)" class="lt">E</text><path d="M80.8 433.4H93.2" stroke="#3e5687" stroke-width="1.5"/><path d="M80.8 445.2H93.2" stroke="#a32136" stroke-width="1.5"/><text x="96.7" y="436.2" textLength="131.8" lengthAdjust="spacingAndGlyphs" class="lg"><tspan class="sym">≥</tspan>VGPR at 4 months (median: 89 months)</text><text x="96.7" y="447.5" textLength="133.8" lengthAdjust="spacingAndGlyphs" class="lg"><tspan class="sym">&lt;</tspan> VGPR at 4 months (median: 91 months)</text><text x="54.6" y="565.8" textLength="18.5" lengthAdjust="spacingAndGlyphs" class="t">P=0.9</text><path d="M45.4,434.2 50.3,434.2 52.1,434.2 52.1,435.8 53.55,435.8 53.55,436.65 55,436.65 55,437.5 56.7,437.5 56.7,439.2 58.4,439.2 58.4,441 60.2,441 60.2,442.7 62.5,442.7 62.5,443.8 63.9,443.8 63.9,444.4 65.3,444.4 65.3,445 66.75,445 66.75,446.15 68.2,446.15 68.2,447.3 70.5,447.3 70.5,448.5 72.8,448.5 74.25,448.5 74.25,449.05 75.7,449.05 75.7,449.6 78,449.6 78,451.3 79.15,451.3 79.15,452.75 80.3,452.75 80.3,454.2 82.7,454.2 82.7,456.5 85,456.5 85,458.3 88.4,458.8 90.7,458.8 90.7,461.2 91.85,461.2 91.85,462.6 93,462.6 93,464 94.45,464 94.45,465.45 95.9,465.45 95.9,466.9 97.65,466.9 97.65,468.35 99.4,468.35 99.4,469.8 100.93,469.8 100.93,470.43 102.47,470.43 102.47,471.07 104,471.07 104,471.7 105.7,471.7 105.7,473.05 107.4,473.05 107.4,474.4 108.97,474.4 108.97,475.07 110.53,475.07 110.53,475.73 112.1,475.73 112.1,476.4 114.15,476.4 114.15,477.75 116.2,477.75 116.2,479.1 118.2,479.1 118.2,480.45 120.2,480.45 120.2,481.8 122.2,481.8 122.2,482.8 124.2,482.8 124.2,483.8 125.55,483.8 125.55,485.15 126.9,485.15 126.9,486.5 128.6,486.5 128.6,487.85 130.3,487.85 130.3,489.2 132.3,489.2 132.3,490.9 134.3,490.9 134.3,492.6 136,492.6 136,492.95 137.7,492.95 137.7,493.3 139.7,493.3 139.7,494.3 141.7,494.3 141.7,495.3 143.05,495.3 143.05,496.65 144.4,496.65 144.4,498 146.45,498 146.45,499.35 148.5,499.35 148.5,500.7 150.07,500.7 150.07,501.13 151.63,501.13 151.63,501.57 153.2,501.57 153.2,502 154.77,502 154.77,502.23 156.33,502.23 156.33,502.47 157.9,502.47 157.9,502.7 159.9,502.7 159.9,503.7 161.9,503.7 161.9,504.7 163.57,504.7 163.57,505.2 165.23,505.2 165.23,505.7 166.9,505.7 166.9,506.2 168.2,506.2 168.2,507.95 169.5,507.95 169.5,509.7 171.23,509.7 171.23,510 172.97,510 172.97,510.3 174.7,510.3 174.7,510.6 177.3,510.6 177.3,513.2 179.05,513.2 179.05,514.5 180.8,514.5 180.8,515.8 182.35,515.8 182.35,517.1 183.9,517.1 183.9,518.4 184.95,518.4 184.95,520.1 186,520.1 186,521.8 192,522.3 194.6,522.3 194.6,524.1 197.2,524.1 197.2,526.1 199.4,526.1 199.4,528.2 206.7,528.2 207.55,528.2 207.55,529.75 208.4,529.75 208.4,531.3 219.7,531.3 220.2,533.9 223.1,533.9 223.43,533.9 223.43,535.85 223.75,535.85 223.75,537.8 224.07,537.8 224.07,539.75 224.4,539.75 224.4,541.7 237,541.7 237.5,550.7 243.9,550.7" fill="none" stroke="#a32136" stroke-width="1.45" stroke-linejoin="round"/><path d="M45.4,434.2 52.1,434.2 53.2,434.2 53.2,435.2 55.5,435.2 55.5,436.9 57.8,436.9 57.8,438.1 59.6,438.1 59.6,439.2 60.7,439.2 60.7,441 61.9,441 61.9,442.1 64.2,442.7 66.5,442.7 66.5,444.4 68.8,444.4 68.8,446.2 71.1,446.2 71.1,448.5 71.7,448.5 71.7,449.9 72.3,449.9 72.3,451.3 73.15,451.3 73.15,453.05 74,453.05 74,454.8 76.3,454.8 76.3,457.1 79.8,457.7 81.25,457.7 81.25,458 82.7,458 82.7,458.3 84.4,458.3 84.4,460.6 86.1,460.6 86.1,461.7 88.4,461.7 88.4,462.9 89.85,462.9 89.85,463.45 91.3,463.45 91.3,464 93.6,464 93.6,465.8 95.35,465.8 95.35,466.95 97.1,466.95 97.1,468.1 98.8,468.1 98.8,469.8 100.5,469.8 100.5,471.5 102.25,471.5 102.25,473.65 104,473.65 104,475.8 106.05,475.8 106.05,476.8 108.1,476.8 108.1,477.8 110.1,477.8 110.1,479.15 112.1,479.15 112.1,480.5 114.15,480.5 114.15,481.5 116.2,481.5 116.2,482.5 118.2,482.5 118.2,483.85 120.2,483.85 120.2,485.2 121.9,485.2 121.9,486.55 123.6,486.55 123.6,487.9 125.6,487.9 125.6,488.55 127.6,488.55 127.6,489.2 129.6,489.2 129.6,490.2 131.6,490.2 131.6,491.2 133.3,491.2 133.3,491.55 135,491.55 135,491.9 136.35,491.9 136.35,493.6 137.7,493.6 137.7,495.3 139.05,495.3 139.05,496.65 140.4,496.65 140.4,498 142.4,498 142.4,499 144.4,499 144.4,500 147.1,500 147.1,501.3 149.1,501.3 149.1,501.65 151.1,501.65 151.1,502 152.9,502 152.9,502.23 154.7,502.23 154.7,502.47 156.5,502.47 156.5,502.7 158.55,502.7 158.55,503.35 160.6,503.35 160.6,504 162.13,504 162.13,504.47 163.67,504.47 163.67,504.93 165.2,504.93 165.2,505.4 166.95,505.4 166.95,507.1 168.7,507.1 168.7,508.8 170.4,508.8 170.4,510.2 172.12,510.2 172.12,510.38 173.85,510.38 173.85,510.55 175.58,510.55 175.58,510.72 177.3,510.72 177.3,510.9 178.15,510.9 178.15,512.45 179,512.45 179,514 180.4,514 180.4,516.6 182.3,516.6 182.3,517.75 184.2,517.75 184.2,518.9 185.6,518.9 185.6,520.6 201.2,520.6 201.6,520.6 201.6,522.17 202,522.17 202,523.73 202.4,523.73 202.4,525.3 206.7,525.3 207.15,525.3 207.15,527.45 207.6,527.45 207.6,529.6 208,529.6 208,531.17 208.4,531.17 208.4,532.73 208.8,532.73 208.8,534.3 222.3,534.3 222.7,534.3 222.7,536.3 223.1,536.3 223.1,538.3 249.6,538.3" fill="none" stroke="#3e5687" stroke-width="1.45" stroke-linejoin="round"/></g>
<g><path d="M305.4 430.8V576.7H512" fill="none" stroke="#262626" stroke-width="1.2"/><path d="M305.4 576.7v3.8 M321.1 576.7v2.2 M336.79 576.7v3.8 M352.49 576.7v2.2 M368.18 576.7v3.8 M383.88 576.7v2.2 M399.58 576.7v3.8 M415.27 576.7v2.2 M430.97 576.7v3.8 M446.66 576.7v2.2 M462.36 576.7v3.8 M478.06 576.7v2.2 M493.75 576.7v3.8 M509.45 576.7v2.2 M302 576.7h3.4 M303.4 562.41h2 M302 548.12h3.4 M303.4 533.83h2 M302 519.54h3.4 M303.4 505.25h2 M302 490.96h3.4 M303.4 476.67h2 M302 462.38h3.4 M303.4 448.09h2 M302 433.8h3.4" fill="none" stroke="#262626" stroke-width="1"/><text x="303.45" y="590.6" textLength="3.9" lengthAdjust="spacingAndGlyphs" class="t">0</text><text x="332.59" y="590.6" textLength="8.4" lengthAdjust="spacingAndGlyphs" class="t">24</text><text x="363.98" y="590.6" textLength="8.4" lengthAdjust="spacingAndGlyphs" class="t">48</text><text x="395.38" y="590.6" textLength="8.4" lengthAdjust="spacingAndGlyphs" class="t">72</text><text x="426.77" y="590.6" textLength="8.4" lengthAdjust="spacingAndGlyphs" class="t">96</text><text x="456.36" y="590.6" textLength="12" lengthAdjust="spacingAndGlyphs" class="t">120</text><text x="487.75" y="590.6" textLength="12" lengthAdjust="spacingAndGlyphs" class="t">144</text><text x="288.9" y="579.45" textLength="10.0" lengthAdjust="spacingAndGlyphs" class="t">0.0</text><text x="288.9" y="550.87" textLength="10.0" lengthAdjust="spacingAndGlyphs" class="t">0.2</text><text x="288.9" y="522.29" textLength="10.0" lengthAdjust="spacingAndGlyphs" class="t">0.4</text><text x="288.9" y="493.71" textLength="10.0" lengthAdjust="spacingAndGlyphs" class="t">0.6</text><text x="288.9" y="465.13" textLength="10.0" lengthAdjust="spacingAndGlyphs" class="t">0.8</text><text x="289.4" y="436.55" textLength="9.5" lengthAdjust="spacingAndGlyphs" class="t">1.0</text><text x="325.2" y="604" textLength="166.3" lengthAdjust="spacingAndGlyphs" class="al">Months from start of first-line treatment</text><text transform="translate(282.2 556.7) rotate(-90)" x="0" y="0" textLength="106.4" lengthAdjust="spacingAndGlyphs" class="al">Proportion surviving (OS)</text><text transform="translate(268.3 431) scale(0.82 1)" class="lt">F</text><path d="M341 431.3H354" stroke="#3e5687" stroke-width="1.5"/><path d="M341 442.7H354" stroke="#a32136" stroke-width="1.5"/><text x="356.8" y="434" textLength="119.2" lengthAdjust="spacingAndGlyphs" class="lg"><tspan class="sym">≥</tspan>VGPR overall (median: 102 months)</text><text x="356.8" y="445.2" textLength="116.9" lengthAdjust="spacingAndGlyphs" class="lg"><tspan class="sym">&lt;</tspan> VGPR overall (median: 77 months)</text><text x="312.9" y="564.5" textLength="26.2" lengthAdjust="spacingAndGlyphs" class="t">P=0.003</text><path d="M305.4,433.8 309.8,433.8 310.65,433.8 310.65,435.65 311.5,435.65 311.5,437.5 313.2,437.5 313.2,438.1 315.5,438.7 316.1,438.7 316.1,440.4 316.7,440.4 316.7,442.1 317.8,442.1 317.8,444.4 319.6,444.4 319.6,446.2 321.9,446.2 321.9,447.3 323.35,447.3 323.35,448.15 324.8,448.15 324.8,449 326.25,449 326.25,449.9 327.7,449.9 327.7,450.8 328.8,450.8 328.8,453.1 330,453.1 330,454.8 332.8,455.4 334.25,455.4 334.25,455.7 335.7,455.7 335.7,456 338,456 338,457.1 338.9,457.1 338.9,458.55 339.8,458.55 339.8,460 340.9,460 340.9,461.7 342.7,461.7 342.7,463.5 345,463.5 345,464.6 347.8,465.2 350.2,465.2 350.2,466.9 351.05,466.9 351.05,468.35 351.9,468.35 351.9,469.8 352.75,469.8 352.75,471.55 353.6,471.55 353.6,473.3 355.9,473.3 355.9,474.4 356.8,474.4 356.8,475.85 357.7,475.85 357.7,477.3 360,477.3 360,479.6 362,479.6 362,480.55 364,480.55 364,481.5 366.7,481.5 366.7,484.2 368.05,484.2 368.05,486.25 369.4,486.25 369.4,488.3 374.1,488.9 375.8,488.9 375.8,489.6 377.5,489.6 377.5,490.3 379.5,490.3 379.5,492.3 381.55,492.3 381.55,492.95 383.6,492.95 383.6,493.6 386.2,493.6 386.2,496.3 387.55,496.3 387.55,498 388.9,498 388.9,499.7 390.95,499.7 390.95,500.7 393,500.7 393,501.7 394.65,501.7 394.65,502.4 396.3,502.4 396.3,503.1 398.35,503.1 398.35,503.75 400.4,503.75 400.4,504.4 402.2,504.4 402.2,504.87 404,504.87 404,505.33 405.8,505.33 405.8,505.8 407.8,505.8 407.8,507.45 409.8,507.45 409.8,509.1 411.8,509.1 411.8,510.1 413.8,510.1 413.8,511.1 415.85,511.1 415.85,512.15 417.9,512.15 417.9,513.2 419.9,513.2 419.9,514.05 421.9,514.05 421.9,514.9 423.9,514.9 423.9,515.85 425.9,515.85 425.9,516.8 431.1,516.8 431.5,516.8 431.5,518.3 431.9,518.3 431.9,519.8 436.2,519.8 437.1,519.8 437.1,521.75 438,521.75 438,523.7 443.2,523.7 444.9,523.7 444.9,526.3 446.6,526.3 446.6,528.9 448.4,528.9 448.4,531.5 454.4,531.5 455.3,531.5 455.3,534.1 458.7,534.1 459.15,534.1 459.15,535.85 459.6,535.85 459.6,537.6 506,537.6" fill="none" stroke="#a32136" stroke-width="1.45" stroke-linejoin="round"/><path d="M305.4,433.8 312.1,433.8 313.8,433.8 313.8,435.2 315.25,435.2 315.25,435.5 316.7,435.5 316.7,435.8 319,435.8 319,436.9 320.7,436.9 320.7,438.7 321.9,438.7 321.9,441 324.8,441 327.1,441 327.1,442.1 329.4,442.1 329.4,443.8 331.7,443.8 331.7,446.2 333.4,446.2 333.4,448.5 335.2,448.5 335.2,450.8 337.5,450.8 337.5,451.9 338.9,451.9 338.9,452.5 340.3,452.5 340.3,453.1 342.7,453.1 342.7,454.2 345,454.2 345,456 347.3,456 347.3,457.1 348.75,457.1 348.75,457.7 350.2,457.7 350.2,458.3 351.6,458.3 351.6,459.15 353,459.15 353,460 354.45,460 354.45,460.6 355.9,460.6 355.9,461.2 357.35,461.2 357.35,462.05 358.8,462.05 358.8,462.9 360.25,462.9 360.25,464.05 361.7,464.05 361.7,465.2 362.85,465.2 362.85,466.65 364,466.65 364,468.1 365.8,468.1 365.8,468.77 367.6,468.77 367.6,469.43 369.4,469.43 369.4,470.1 371.45,470.1 371.45,471.45 373.5,471.45 373.5,472.8 375.5,472.8 375.5,474.5 377.5,474.5 377.5,476.2 379.07,476.2 379.07,477.07 380.63,477.07 380.63,477.93 382.2,477.93 382.2,478.8 383.77,478.8 383.77,479.7 385.33,479.7 385.33,480.6 386.9,480.6 386.9,481.5 388.95,481.5 388.95,482.85 391,482.85 391,484.2 392.57,484.2 392.57,484.87 394.13,484.87 394.13,485.53 395.7,485.53 395.7,486.2 397.35,486.2 397.35,487.55 399,487.55 399,488.9 401.05,488.9 401.05,490.6 403.1,490.6 403.1,492.3 404.67,492.3 404.67,493.3 406.23,493.3 406.23,494.3 407.8,494.3 407.8,495.3 409.45,495.3 409.45,495.7 411.1,495.7 411.1,496.1 419.2,496.3 421.25,496.3 421.25,496.85 423.3,496.85 423.3,497.4 425.3,497.4 425.3,498.5 427.3,498.5 427.3,499.6 428.75,499.6 428.75,500.85 430.2,500.85 430.2,502.1 432.8,502.1 432.8,504.7 439.7,504.7 440.55,504.7 440.55,506.45 441.4,506.45 441.4,508.2 442.3,508.2 442.3,510.8 444.9,510.8 444.9,512.8 446.6,512.8 446.6,514.6 448.4,514.6 448.4,515.6 457,515.6 459.6,515.6 459.6,516.8 462.2,516.8 462.2,519.1 464.8,519.1 464.8,521.1 469.1,521.5 469.5,521.5 469.5,523.1 469.9,523.1 469.9,524.7 470.3,524.7 470.3,526.3 471.2,526.3 471.2,527.85 472.1,527.85 472.1,529.4 481.3,529.4 481.3,531.8 485.2,531.8 485.2,537.4 488.1,537.4 488.1,540.1 500.2,540.1 500.2,545.4 511.7,545.4" fill="none" stroke="#3e5687" stroke-width="1.45" stroke-linejoin="round"/></g>
<rect x="1.5" y="1.5" width="517" height="609" fill="none" stroke="#8e8e8e" stroke-width="1"/>
<rect x="0.5" y="0.5" width="519" height="611" fill="none" stroke="#4a4a4a" stroke-width="1"/>
</svg>
</body></html>
